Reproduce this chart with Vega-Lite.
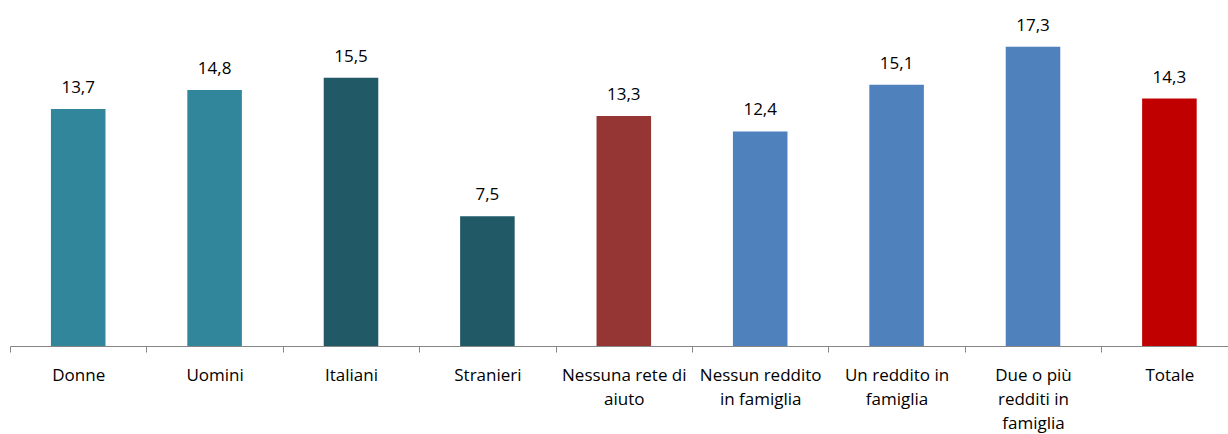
{
  "$schema": "https://vega.github.io/schema/vega-lite/v6.json",
  "width": 1218,
  "height": 346,
  "autosize": "none",
  "padding": {"left": 10, "top": 0, "right": 0, "bottom": 88},
  "background": "white",
  "config": {
    "view": {"stroke": null},
    "locale": {"number": {"decimal": ",", "thousands": ".", "grouping": [3], "currency": ["", " €"]}}
  },
  "data": {
    "values": [
      {"cat": "Donne", "v": 13.7},
      {"cat": "Uomini", "v": 14.8},
      {"cat": "Italiani", "v": 15.5},
      {"cat": "Stranieri", "v": 7.5},
      {"cat": "Nessuna rete di|aiuto", "v": 13.3},
      {"cat": "Nessun reddito|in famiglia", "v": 12.4},
      {"cat": "Un reddito in|famiglia", "v": 15.1},
      {"cat": "Due o più|redditi in|famiglia", "v": 17.3},
      {"cat": "Totale", "v": 14.3}
    ]
  },
  "encoding": {
    "x": {
      "field": "cat",
      "type": "nominal",
      "sort": null,
      "scale": {"range": [0, 1227.6], "paddingInner": 0, "paddingOuter": 0},
      "axis": {
        "title": null,
        "labelAngle": 0,
        "labelExpr": "split(datum.label, '|')",
        "labelFont": "Open Sans",
        "labelFontSize": 17,
        "labelColor": "#000000",
        "labelPadding": 15,
        "labelLineHeight": 24,
        "labelOverlap": false,
        "labelLimit": 300,
        "domainColor": "#868686",
        "domainWidth": 1,
        "tickColor": "#868686",
        "tickSize": 6,
        "tickBand": "extent"
      }
    },
    "y": {
      "field": "v",
      "type": "quantitative",
      "scale": {"domain": [0, 20], "nice": false},
      "axis": null
    }
  },
  "layer": [
    {
      "mark": {"type": "bar", "width": {"band": 0.4}},
      "encoding": {
        "color": {
          "field": "cat",
          "type": "nominal",
          "legend": null,
          "scale": {
            "domain": ["Donne", "Uomini", "Italiani", "Stranieri", "Nessuna rete di|aiuto", "Nessun reddito|in famiglia", "Un reddito in|famiglia", "Due o più|redditi in|famiglia", "Totale"],
            "range": ["#31869B", "#31869B", "#215967", "#215967", "#963634", "#4F81BD", "#4F81BD", "#4F81BD", "#C00000"]
          }
        }
      }
    },
    {
      "mark": {"type": "text", "baseline": "alphabetic", "dy": -16, "font": "Open Sans", "fontSize": 17, "color": "#000000"},
      "encoding": {
        "text": {"field": "v", "type": "quantitative", "format": ".1f"}
      }
    }
  ]
}
